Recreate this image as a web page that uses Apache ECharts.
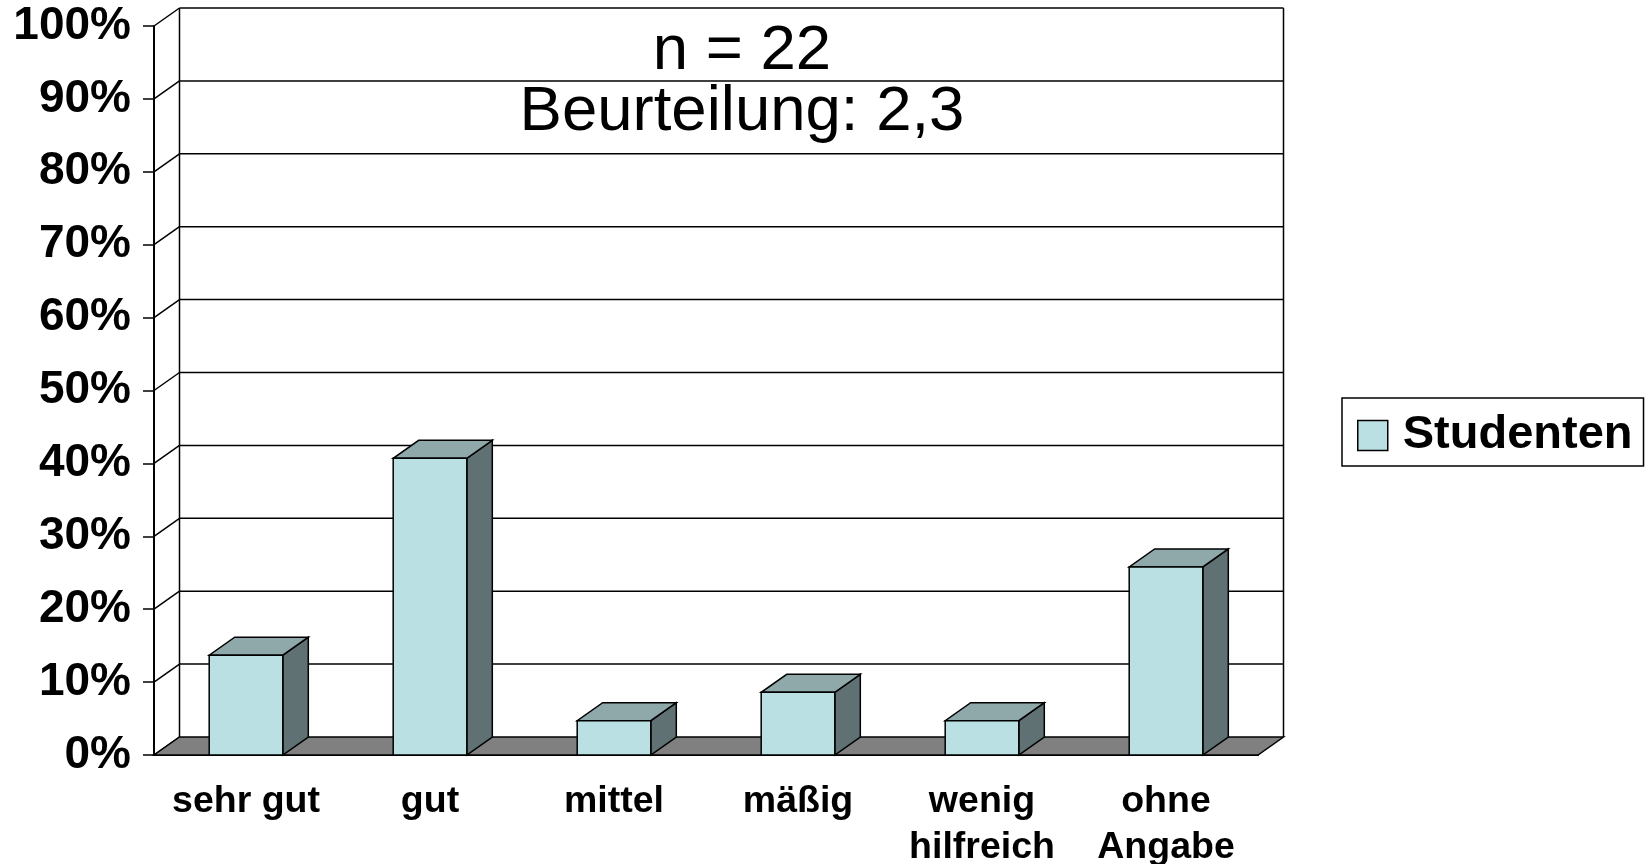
<!DOCTYPE html>
<html>
<head>
<meta charset="utf-8">
<script src="https://cdn.jsdelivr.net/npm/echarts@6/dist/echarts.min.js"></script>
<style>
html, body { margin: 0; padding: 0; background: #fff; }
#chart { width: 1645px; height: 864px; }
</style>
</head>
<body>
<div id="chart"></div>
<script>
const categories = ["sehr gut", "gut", "mittel", "mäßig", "wenig\nhilfreich", "ohne\nAngabe"];
const studenten = [13.7, 40.7, 4.7, 8.6, 4.7, 25.8];
const yTicks = [0, 10, 20, 30, 40, 50, 60, 70, 80, 90, 100];
const titleText = "n = 22\nBeurteilung: 2,3";
const seriesName = "Studenten";

// depth offset used for the fake 3d look
const DX = 25.5;
const DY = -18;
const FONT = "Liberation Sans";
const lineStyle = {stroke: "#000", lineWidth: 1.5, fill: null};

// back wall: one diagonal + one horizontal line per tick
function renderWall(params, api) {
    const cs = params.coordSys;
    const v = api.value(1);
    const y = api.coord([0, v])[1];
    const x0 = cs.x;
    const x1 = cs.x + cs.width;
    let children = [
        {type: "line", shape: {x1: x0, y1: y, x2: x0 + DX, y2: y + DY}, style: lineStyle},
    ];
    if (v > 0) {
        children.push({type: "line", shape: {x1: x0 + DX, y1: y + DY, x2: x1 + DX, y2: y + DY}, style: lineStyle});
    }
    if (params.dataIndex === 0) {
        const top = cs.y + DY;
        const bottom = cs.y + cs.height + DY;
        children.push({type: "line", shape: {x1: x0 + DX, y1: top, x2: x0 + DX, y2: bottom}, style: lineStyle});
        children.push({type: "line", shape: {x1: x1 + DX, y1: top, x2: x1 + DX, y2: bottom}, style: lineStyle});
    }
    return {type: "group", children: children};
}

function renderFloor(params, api) {
    const cs = params.coordSys;
    const y = api.coord([0, api.value(1)])[1];
    const x0 = cs.x;
    const x1 = cs.x + cs.width;
    return {
        type: "polygon",
        shape: {points: [[x0, y], [x1, y], [x1 + DX, y + DY], [x0 + DX, y + DY]]},
        style: {fill: "#808080", stroke: "#000", lineWidth: 1.5},
    };
}

function renderBar(params, api) {
    const i = api.value(0);
    const top = api.coord([i, api.value(1)]);
    const base = api.coord([i, 0]);
    const w = api.size([1, 0])[0] * 0.4;
    const xl = top[0] - w / 2;
    const xr = top[0] + w / 2;
    const yt = top[1];
    const yb = base[1];
    return {
        type: "group",
        children: [
            {
                type: "polygon",
                shape: {points: [[xr, yt], [xr + DX, yt + DY], [xr + DX, yb + DY], [xr, yb]]},
                style: {fill: "#5F7173", stroke: "#000", lineWidth: 1.5},
            },
            {
                type: "polygon",
                shape: {points: [[xl, yt], [xr, yt], [xr + DX, yt + DY], [xl + DX, yt + DY]]},
                style: {fill: "#8FA9AB", stroke: "#000", lineWidth: 1.5},
            },
            {
                type: "rect",
                shape: {x: xl, y: yt, width: w, height: yb - yt},
                style: {fill: "#BBE0E3", stroke: "#000", lineWidth: 1.5},
            },
        ],
    };
}

const chart = echarts.init(document.getElementById("chart"));
const option = {
    animation: false,
    title: {
        text: titleText,
        left: 742,
        top: 21,
        padding: 0,
        textAlign: "center",
        textStyle: {fontFamily: FONT, fontSize: 63.5, fontWeight: "normal", lineHeight: 61, color: "#000"},
    },
    legend: {
        left: 1342,
        top: 398,
        padding: [14, 11, 7, 15],
        itemWidth: 30,
        itemHeight: 30,
        borderColor: "#000",
        borderWidth: 1.5,
        selectedMode: false,
        data: [{
            name: seriesName,
            icon: "rect",
            itemStyle: {color: "#BBE0E3", borderColor: "#000", borderWidth: 1.5},
        }],
        textStyle: {fontFamily: FONT, fontSize: 47, fontWeight: "bold", color: "#000", lineHeight: 30, padding: [0, 0, 0, 10]},
    },
    grid: {left: 154, right: 387, top: 26, bottom: 109, outerBoundsMode: "none"},
    xAxis: {
        type: "category",
        data: categories,
        axisLine: {lineStyle: {color: "#000", width: 2}},
        axisTick: {length: 12, lineStyle: {color: "#000", width: 1.5}},
        axisLabel: {
            interval: 0,
            margin: 24,
            fontFamily: FONT,
            fontSize: 37.5,
            fontWeight: "bold",
            lineHeight: 46,
            color: "#000",
        },
    },
    yAxis: {
        type: "value",
        min: 0,
        max: 100,
        interval: 10,
        axisLine: {show: true, lineStyle: {color: "#000", width: 2}},
        axisTick: {show: true, length: 11, lineStyle: {color: "#000", width: 1.5}},
        splitLine: {show: false},
        axisLabel: {
            formatter: "{value}%",
            margin: 23,
            padding: [12, 0, 0, 0],
            fontFamily: FONT,
            fontSize: 46,
            fontWeight: "bold",
            color: "#000",
        },
    },
    series: [
        {
            type: "custom",
            z: 1,
            silent: true,
            clip: false,
            renderItem: renderWall,
            encode: {x: 0, y: 1},
            data: yTicks.map((v) => [0, v]),
        },
        {
            type: "custom",
            z: 2,
            silent: true,
            clip: false,
            renderItem: renderFloor,
            encode: {x: 0, y: 1},
            data: [[0, 0]],
        },
        {
            name: seriesName,
            type: "custom",
            z: 3,
            clip: false,
            renderItem: renderBar,
            itemStyle: {color: "#BBE0E3"},
            encode: {x: 0, y: 1},
            data: studenten.map((v, i) => [i, v]),
        },
    ],
};
chart.setOption(option);
</script>
</body>
</html>
